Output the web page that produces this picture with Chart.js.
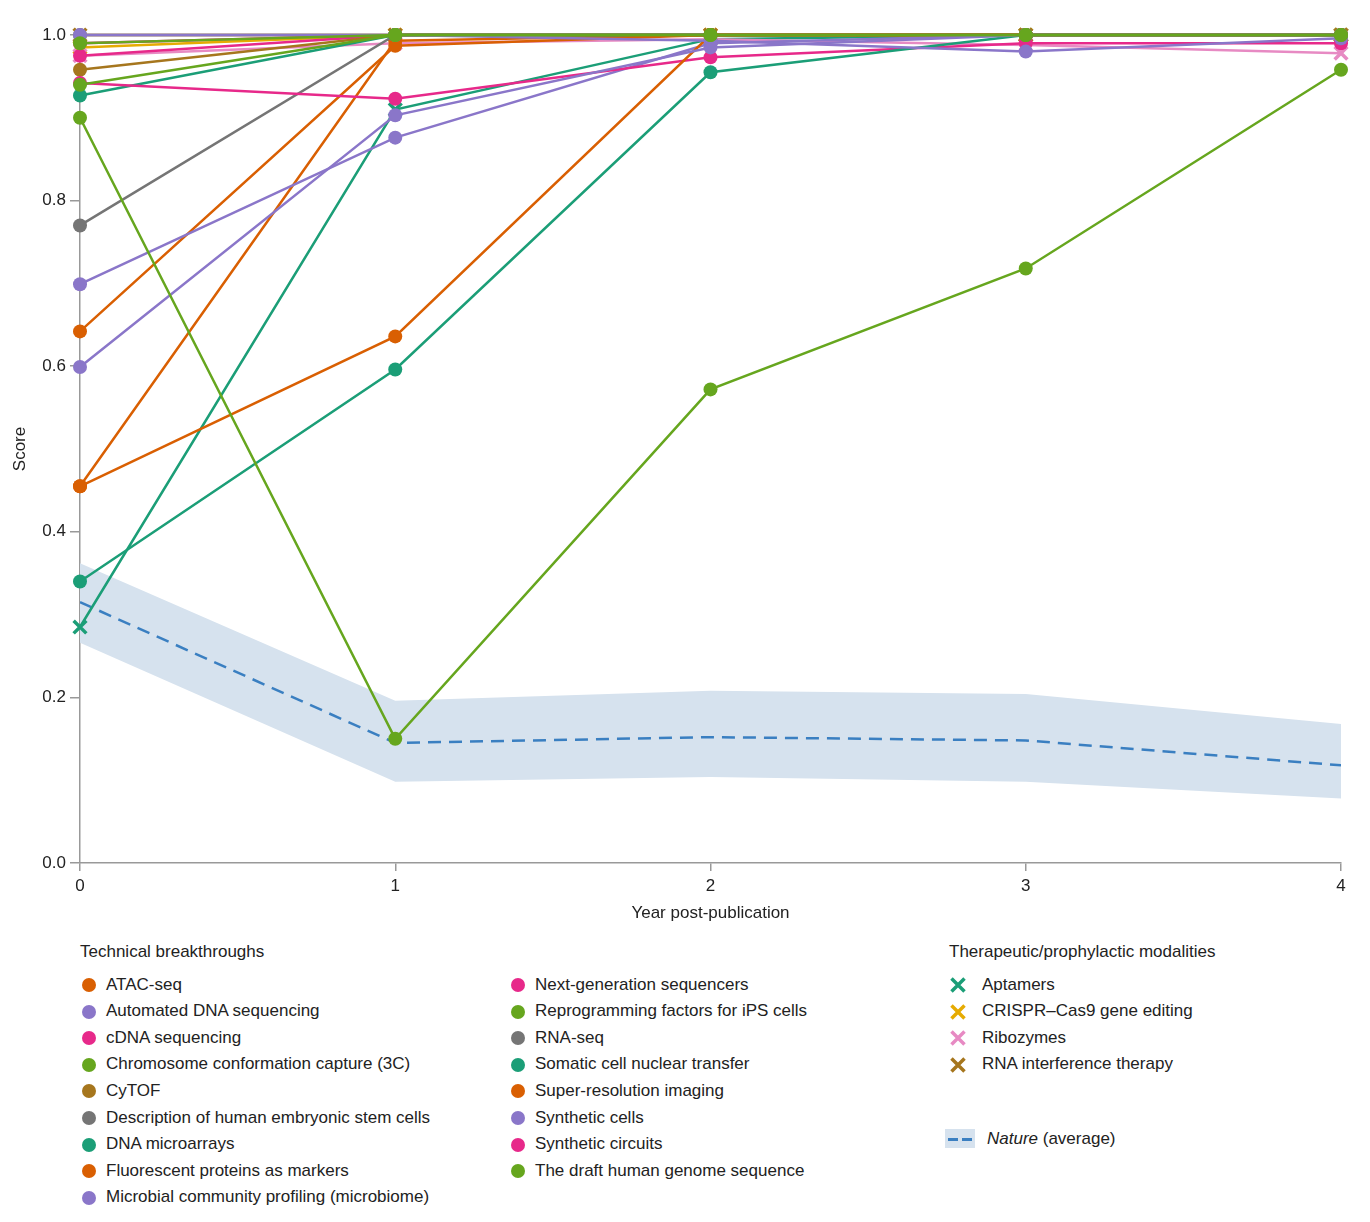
<!DOCTYPE html>
<html>
<head>
<meta charset="utf-8">
<title>Score by year post-publication</title>
<script src="https://cdn.jsdelivr.net/npm/chart.js@4.4.0/dist/chart.umd.min.js"></script>
<style>
body { margin: 0; background: #fff; font-family: "Liberation Sans", Arial, sans-serif; color: #222; }
#wrap { position: relative; width: 1370px; height: 1222px; }
#box { position: absolute; left: 0; top: 0; width: 1370px; height: 930px; }
.col { position: absolute; top: 941px; font-size: 17px; }
.head { height: 22px; line-height: 22px; margin-bottom: 8.7px; white-space: nowrap; }
.item { position: relative; height: 26.6px; line-height: 26.6px; white-space: nowrap; }
.dot { position: absolute; left: 2px; top: 6.3px; width: 14px; height: 14px; border-radius: 50%; }
.xm { position: absolute; left: -1px; top: 3.3px; }
#nature { position: absolute; left: 945px; top: 1126px; font-size: 17px; height: 26px; line-height: 26px; white-space: nowrap; }
#nature .sw { position: absolute; left: 0; top: 3px; width: 30px; height: 19px; background: #d6e2ee; }
#nature .sw i { position: absolute; top: 9px; height: 2.5px; width: 10px; background: #3a7fc1; }
#nature span { position: absolute; left: 42px; top: 0; }
</style>
</head>
<body>
<div id="wrap">
  <div id="box"><canvas id="chart"></canvas></div>
  <div class="col" id="col1" style="left:80px"></div>
  <div class="col" id="col2" style="left:509px"></div>
  <div class="col" id="col3" style="left:949px"></div>
  <div id="nature"><div class="sw"><i style="left:3px"></i><i style="left:17px"></i></div><span><em>Nature</em> (average)</span></div>
</div>
<script>
// years after publication
const years = [0, 1, 2, 3, 4];
const yTicks = [0, 0.2, 0.4, 0.6, 0.8, 1.0];

// technical breakthroughs (circles)
const atacSeq = [0.455, 0.993, 1.0, 1.0, 1.0];
const automatedDna = [1.0, 1.0, 0.993, 0.98, 0.996];
const cdnaSeq = [0.975, 1.0, 1.0, 1.0, 1.0];
const chromConf = [0.99, 1.0, 1.0, 1.0, 1.0];
const cytof = [0.958, 1.0, 1.0, 1.0, 1.0];
const humanEsCells = [0.77, 1.0, 1.0, 1.0, 1.0];
const dnaMicroarrays = [0.927, 1.0, 1.0, 1.0, 1.0];
const fluorProteins = [0.642, 0.987, 1.0, 1.0, 1.0];
const microbiome = [0.699, 0.876, 0.99, 1.0, 1.0];
const nextGenSeq = [0.942, 0.923, 0.973, 0.99, 0.99];
const ipsFactors = [0.94, 1.0, 1.0, 1.0, 1.0];
const rnaSeq = [1.0, 1.0, 1.0, 1.0, 1.0];
const scnt = [0.34, 0.596, 0.955, 1.0, 1.0];
const superRes = [0.455, 0.636, 1.0, 1.0, 1.0];
const syntheticCells = [0.599, 0.903, 0.985, 1.0, 1.0];
const syntheticCircuits = [0.99, 1.0, 1.0, 1.0, 1.0];
const draftGenome = [0.90, 0.15, 0.572, 0.718, 0.958];

// therapeutic/prophylactic modalities (crosses)
const aptamers = [0.285, 0.91, 0.995, 1.0, 1.0];
const crispr = [0.985, 1.0, 1.0, 1.0, 1.0];
const ribozymes = [0.975, 0.99, 0.995, 0.988, 0.978];
const rnai = [1.0, 1.0, 1.0, 1.0, 1.0];

// Nature average and its band
const natureMean = [0.315, 0.145, 0.152, 0.148, 0.118];
const natureUpper = [0.362, 0.196, 0.208, 0.204, 0.168];
const natureLower = [0.266, 0.098, 0.104, 0.098, 0.078];

const TEAL = '#1b9e77', ORANGE = '#d95f02', PURPLE = '#8a76c9', PINK = '#e7298a',
      GREEN = '#66a61e', YELLOW = '#e6ab02', BROWN = '#a6761d', GREY = '#757575', LPINK = '#e78ac3';

const techs = [
  ['ATAC-seq', ORANGE, atacSeq],
  ['Automated DNA sequencing', PURPLE, automatedDna],
  ['cDNA sequencing', PINK, cdnaSeq],
  ['Chromosome conformation capture (3C)', GREEN, chromConf],
  ['CyTOF', BROWN, cytof],
  ['Description of human embryonic stem cells', GREY, humanEsCells],
  ['DNA microarrays', TEAL, dnaMicroarrays],
  ['Fluorescent proteins as markers', ORANGE, fluorProteins],
  ['Microbial community profiling (microbiome)', PURPLE, microbiome],
  ['Next-generation sequencers', PINK, nextGenSeq],
  ['Reprogramming factors for iPS cells', GREEN, ipsFactors],
  ['RNA-seq', GREY, rnaSeq],
  ['Somatic cell nuclear transfer', TEAL, scnt],
  ['Super-resolution imaging', ORANGE, superRes],
  ['Synthetic cells', PURPLE, syntheticCells],
  ['Synthetic circuits', PINK, syntheticCircuits],
  ['The draft human genome sequence', GREEN, draftGenome]
];
const therapies = [
  ['Aptamers', TEAL, aptamers],
  ['CRISPR\u2013Cas9 gene editing', YELLOW, crispr],
  ['Ribozymes', LPINK, ribozymes],
  ['RNA interference therapy', BROWN, rnai]
];

function pts(arr) {
  return years.map((x, i) => ({x: x, y: arr[i]}));
}

// lower order = drawn on top
function drawOrder(color, i, n) {
  if (color === GREEN) return 1 + i * 0.01;
  if (color === PURPLE && i === 1) return 2;
  if (color === GREY && i === 11) return 45;
  if (color === PINK && i === 15) return 44;
  return 3 + (n - i);
}

let datasets = [];
techs.forEach((t, i) => {
  datasets.push({
    label: t[0], data: pts(t[2]),
    borderColor: t[1], backgroundColor: t[1], borderWidth: 2.5,
    pointStyle: 'circle', pointRadius: 7, pointBorderWidth: 0, pointBackgroundColor: t[1],
    clip: false, order: drawOrder(t[1], i, techs.length)
  });
});
therapies.forEach((t, i) => {
  datasets.push({
    label: t[0], data: pts(t[2]),
    borderColor: t[1], backgroundColor: t[1], borderWidth: 2.5,
    pointStyle: 'crossRot', pointRadius: 9, pointBorderWidth: 3.5, pointBorderColor: t[1],
    clip: false, order: 30 - i
  });
});
datasets.push({
  label: 'Nature (average)', data: pts(natureMean),
  borderColor: '#3a7fc1', borderWidth: 2.5, borderDash: [13, 8],
  pointRadius: 0, fill: false, order: 50
});
datasets.push({
  label: 'lower', data: pts(natureLower),
  borderWidth: 0, pointRadius: 0, fill: false, order: 60
});
datasets.push({
  label: 'upper', data: pts(natureUpper),
  borderWidth: 0, pointRadius: 0, fill: '-1', backgroundColor: '#d6e2ee', order: 59
});

const tickFont = {family: '"Liberation Sans", Arial, sans-serif', size: 17};

new Chart(document.getElementById('chart'), {
  type: 'line',
  data: {datasets: datasets},
  options: {
    responsive: true,
    maintainAspectRatio: false,
    animation: false,
    layout: {padding: {top: 35, right: 29, left: 0, bottom: 0}},
    elements: {line: {tension: 0}},
    plugins: {legend: {display: false}, tooltip: {enabled: false}},
    scales: {
      x: {
        type: 'linear', min: 0, max: 4,
        afterFit: s => { s.height = 67; },
        border: {color: '#999', width: 1.5},
        grid: {display: true, drawOnChartArea: false, drawTicks: true, tickLength: 8, color: '#999', lineWidth: 1.5},
        ticks: {stepSize: 1, color: '#222', font: tickFont, padding: 5,
                callback: v => years.includes(v) ? String(v) : ''},
        title: {display: true, text: 'Year post-publication', color: '#222', font: tickFont, padding: {top: 4, bottom: 6}}
      },
      y: {
        min: 0, max: 1,
        afterFit: s => { s.width = 80; },
        afterBuildTicks: s => { s.ticks = yTicks.map(v => ({value: v})); },
        border: {color: '#999', width: 1.5},
        grid: {display: true, drawOnChartArea: false, drawTicks: true, tickLength: 10, color: '#999', lineWidth: 1.5},
        ticks: {color: '#222', font: tickFont, padding: 4, callback: v => Number(v).toFixed(1)},
        title: {display: true, text: 'Score', color: '#222', font: tickFont, padding: {top: 10, bottom: 0}}
      }
    }
  }
});

// legend built from the same lists
function crossSvg(color) {
  return '<svg class="xm" width="20" height="20" viewBox="0 0 20 20"><path d="M3.5 3.5L16.5 16.5M16.5 3.5L3.5 16.5" stroke="' +
    color + '" stroke-width="3.5" fill="none"/></svg>';
}
function fillCol(id, title, items, cross) {
  let html = title ? '<div class="head">' + title + '</div>' : '<div class="head">&nbsp;</div>';
  items.forEach(t => {
    const mark = cross ? crossSvg(t[1]) : '<span class="dot" style="background:' + t[1] + '"></span>';
    html += '<div class="item" style="padding-left:' + (cross ? 33 : 26) + 'px">' + mark + t[0] + '</div>';
  });
  document.getElementById(id).innerHTML = html;
}
fillCol('col1', 'Technical breakthroughs', techs.slice(0, 9), false);
fillCol('col2', '', techs.slice(9), false);
fillCol('col3', 'Therapeutic/prophylactic modalities', therapies, true);
</script>
</body>
</html>
